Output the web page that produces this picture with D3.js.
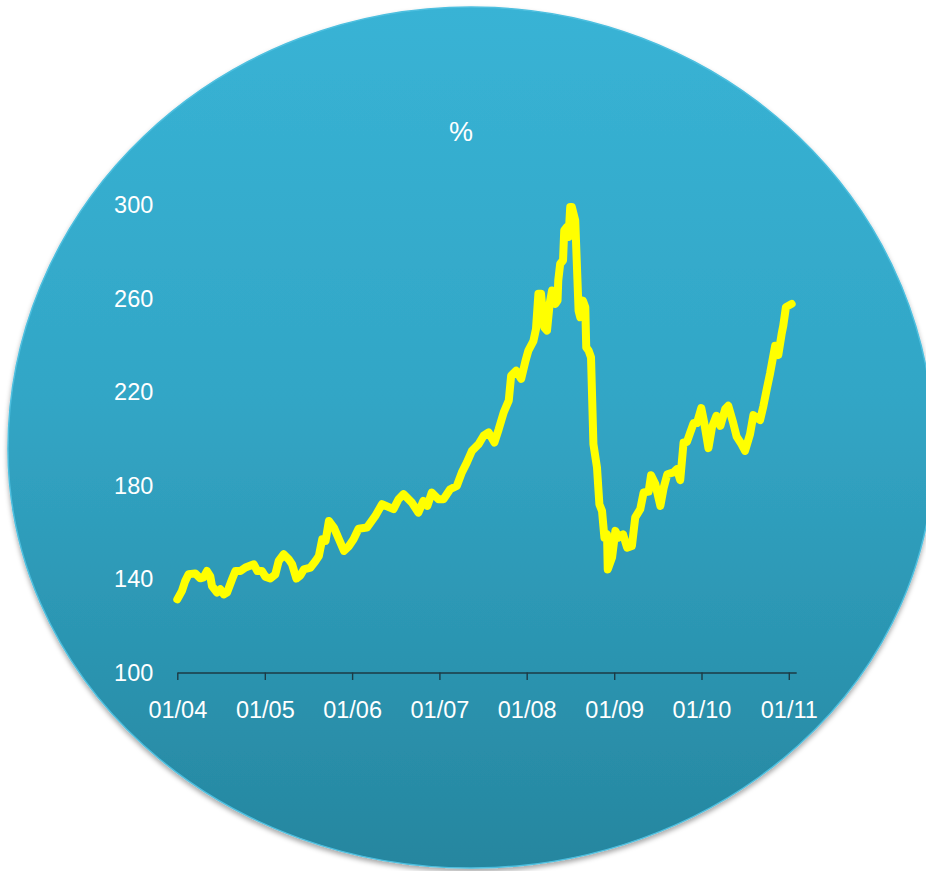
<!DOCTYPE html>
<html>
<head>
<meta charset="utf-8">
<script src="https://cdn.jsdelivr.net/npm/d3@7"></script>
<style>
  html, body { margin: 0; padding: 0; background: #ffffff; }
  svg { display: block; }
  text { font-family: "Liberation Sans", Arial, sans-serif; fill: #ffffff; }
</style>
</head>
<body>
<script>
// Index level (%), weekly-ish observations
const dates = [
  "2004-01-01","2004-01-20","2004-02-03","2004-02-17","2004-03-16","2004-04-06","2004-04-20","2004-05-04",
  "2004-05-18","2004-05-25","2004-06-15","2004-06-29","2004-07-13","2004-07-27","2004-08-17","2004-08-31",
  "2004-09-21","2004-10-12","2004-11-16","2004-12-01","2004-12-20","2005-01-03","2005-01-24","2005-02-14",
  "2005-02-28","2005-03-21","2005-04-11","2005-04-25","2005-05-13","2005-05-30","2005-06-13","2005-07-11",
  "2005-08-01","2005-08-15","2005-08-29","2005-09-12","2005-09-26","2005-10-17","2005-11-07","2005-11-28",
  "2005-12-19","2006-01-07","2006-01-28","2006-03-04","2006-04-08","2006-05-06","2006-06-23","2006-07-14",
  "2006-08-04","2006-09-08","2006-10-05","2006-10-26","2006-11-12","2006-11-30","2006-12-28","2007-01-18",
  "2007-02-15","2007-03-15","2007-04-05","2007-04-26","2007-05-17","2007-06-14","2007-07-05","2007-07-26",
  "2007-08-19","2007-09-06","2007-09-27","2007-10-18","2007-10-28","2007-11-18","2007-12-09","2007-12-27",
  "2008-01-08","2008-01-29","2008-02-09","2008-02-19","2008-03-01","2008-03-14","2008-03-26","2008-04-06",
  "2008-04-16","2008-04-30","2008-05-09","2008-05-12","2008-05-20","2008-06-01","2008-06-06","2008-06-17",
  "2008-06-24","2008-07-01","2008-07-08","2008-07-22","2008-08-05","2008-08-12","2008-08-23","2008-09-02",
  "2008-09-06","2008-09-16","2008-09-26","2008-10-06","2008-10-21","2008-10-31","2008-11-11","2008-11-21",
  "2008-12-02","2008-12-05","2008-12-23","2009-01-06","2009-01-19","2009-02-07","2009-02-24","2009-03-16",
  "2009-03-30","2009-04-20","2009-05-04","2009-05-25","2009-06-04","2009-06-22","2009-07-13","2009-07-27",
  "2009-08-11","2009-09-06","2009-09-20","2009-10-04","2009-10-18","2009-11-01","2009-11-15","2009-11-29",
  "2009-12-13","2009-12-31","2010-01-12","2010-01-30","2010-02-14","2010-03-04","2010-03-21","2010-04-10",
  "2010-04-23","2010-05-13","2010-05-28","2010-06-15","2010-07-02","2010-07-23","2010-08-06","2010-09-03",
  "2010-09-17","2010-10-01","2010-10-15","2010-11-05","2010-11-18","2010-12-02","2010-12-09","2010-12-20",
  "2011-01-13"
];
const values = [
  131.3,134.8,139.1,142.0,142.4,140.3,140.7,143.4,
  141.1,137.0,134.2,135.6,133.4,134.2,139.9,143.4,
  143.4,144.9,146.3,143.4,143.4,141.0,140.2,142.0,
  147.7,150.6,148.4,146.3,140.2,141.6,144.1,144.9,
  147.7,149.8,157.0,156.3,164.8,162.0,157.0,152.0,
  154.1,157.0,161.5,162.0,167.0,172.0,169.9,174.1,
  176.3,172.7,168.4,173.4,171.3,177.0,174.1,174.1,
  178.4,179.8,185.6,189.9,194.8,197.7,201.3,202.7,
  198.4,204.1,211.3,216.3,227.0,229.1,225.6,233.3,
  237.7,241.8,247.0,262.0,262.0,247.7,246.3,257.7,
  263.4,257.7,259.1,267.7,274.8,276.3,289.1,290.6,
  286.3,299.1,299.1,293.4,254.8,252.0,259.1,256.3,
  239.1,237.7,234.8,197.7,187.7,172.0,169.1,157.7,
  159.1,144.1,149.2,160.6,157.7,159.1,153.4,154.1,
  166.4,169.9,177.0,177.4,184.4,180.6,171.3,179.1,
  184.8,185.6,187.0,182.3,198.4,198.6,202.7,206.7,
  206.7,213.1,207.0,196.0,205.0,209.8,205.5,212.7,
  214.1,207.0,200.9,198.1,194.8,202.0,210.1,208.0,
  214.1,221.3,228.1,239.8,235.8,244.8,248.4,256.3,
  257.7
];
const yTicks = [100, 140, 180, 220, 260, 300];
const title = "%";

const W = 926, H = 871;
const parse = d3.timeParse("%Y-%m-%d");
const series = dates.map((d, i) => ({ date: parse(d), value: values[i] }));

const svg = d3.select("body").append("svg").attr("width", W).attr("height", H);
const defs = svg.append("defs");

const grad = defs.append("linearGradient")
  .attr("id", "bg").attr("x1", 0).attr("y1", 0).attr("x2", 0).attr("y2", 1);
grad.append("stop").attr("offset", "0%").attr("stop-color", "#38b3d5");
grad.append("stop").attr("offset", "45%").attr("stop-color", "#32a6c6");
grad.append("stop").attr("offset", "100%").attr("stop-color", "#26869f");

const shadow = defs.append("filter").attr("id", "shadow")
  .attr("x", "-5%").attr("y", "-5%").attr("width", "110%").attr("height", "112%");
shadow.append("feDropShadow")
  .attr("dx", 0).attr("dy", 3).attr("stdDeviation", 2.5)
  .attr("flood-color", "#000").attr("flood-opacity", 0.35);

// backdrop disc: upper and lower half-ellipses sharing the same width
const disc = { cx: 471, cy: 449, rx: 463, ryTop: 442, ryBottom: 419 };
const discD =
  `M${disc.cx - disc.rx},${disc.cy}` +
  `A${disc.rx},${disc.ryTop} 0 0 1 ${disc.cx + disc.rx},${disc.cy}` +
  `A${disc.rx},${disc.ryBottom} 0 0 1 ${disc.cx - disc.rx},${disc.cy}Z`;

svg.append("path")
  .attr("d", discD)
  .attr("fill", "url(#bg)")
  .attr("stroke", "#4dbfdf").attr("stroke-width", 1.5)
  .attr("filter", "url(#shadow)");

const x = d3.scaleTime()
  .domain([parse("2004-01-01"), parse("2011-02-01")])
  .range([177.3, 796.2]);
const y = d3.scaleLinear().domain([100, 300]).range([672.5, 205]);

// title
svg.append("text")
  .attr("x", 461).attr("y", 141)
  .attr("text-anchor", "middle")
  .style("font-size", "27px")
  .text(title);

// y axis: labels only
const yAxis = svg.append("g")
  .attr("transform", "translate(177,0)")
  .call(d3.axisLeft(y).tickValues(yTicks).tickSize(0).tickPadding(23.7).tickFormat(d3.format("d")));
yAxis.select(".domain").remove();
yAxis.selectAll("text")
  .style("font-size", "23.5px")
  .attr("fill", "#ffffff")
  .style("font-family", "'Liberation Sans', Arial, sans-serif");

// x axis
const xAxis = svg.append("g")
  .attr("transform", `translate(0,${y(100)})`)
  .call(d3.axisBottom(x)
    .ticks(d3.timeYear.every(1))
    .tickFormat(d3.timeFormat("%m/%y"))
    .tickSize(7.5).tickSizeOuter(0).tickPadding(21.5));
xAxis.select(".domain").attr("stroke", "#1d3a44").attr("stroke-width", 1.6);
xAxis.selectAll(".tick line").attr("stroke", "#1d3a44").attr("stroke-width", 1.4);
xAxis.selectAll("text")
  .style("font-size", "23.5px")
  .attr("fill", "#ffffff")
  .style("font-family", "'Liberation Sans', Arial, sans-serif");

// series line
const line = d3.line()
  .x(d => x(d.date))
  .y(d => y(d.value));

svg.append("path")
  .datum(series)
  .attr("d", line)
  .attr("fill", "none")
  .attr("stroke", "#ffff00")
  .attr("stroke-width", 8)
  .attr("stroke-linejoin", "round")
  .attr("stroke-linecap", "round");
</script>
</body>
</html>
